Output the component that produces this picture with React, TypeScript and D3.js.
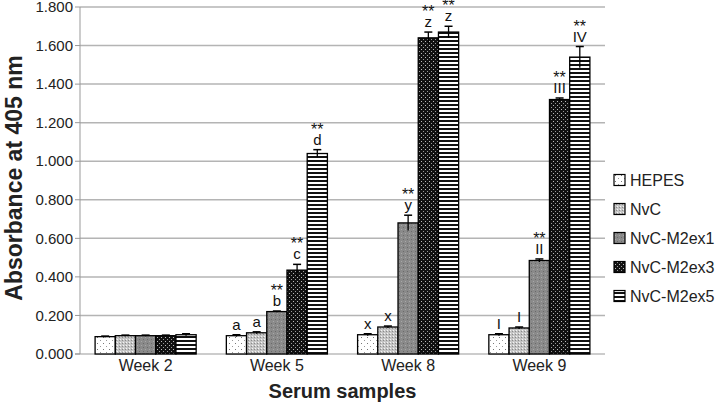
import React from "react";
import * as d3 from "d3";

const weeks = ["Week 2", "Week 5", "Week 8", "Week 9"];
const groups = ["HEPES", "NvC", "NvC-M2ex1", "NvC-M2ex3", "NvC-M2ex5"];

// absorbance per group, one value per week
const hepes = [0.09, 0.095, 0.1, 0.1];
const nvc = [0.095, 0.11, 0.14, 0.135];
const m2ex1 = [0.095, 0.22, 0.68, 0.485];
const m2ex3 = [0.095, 0.435, 1.64, 1.32];
const m2ex5 = [0.1, 1.04, 1.67, 1.54];

const hepesErr = [0.003, 0.005, 0.005, 0.005];
const nvcErr = [0.003, 0.005, 0.005, 0.005];
const m2ex1Err = [0.003, 0.003, 0.04, 0.008];
const m2ex3Err = [0.003, 0.03, 0.03, 0.008];
const m2ex5Err = [0.005, 0.02, 0.03, 0.055];

const hepesLbl = ["", "a", "x", "I"];
const nvcLbl = ["", "a", "x", "I"];
const m2ex1Lbl = ["", "b", "y", "II"];
const m2ex3Lbl = ["", "c", "z", "III"];
const m2ex5Lbl = ["", "d", "z", "IV"];

const starWeeks = ["Week 5", "Week 8", "Week 9"];
const starGroups = ["NvC-M2ex1", "NvC-M2ex3", "NvC-M2ex5"];

const yTicks = [0, 0.2, 0.4, 0.6, 0.8, 1.0, 1.2, 1.4, 1.6, 1.8];

const values = [hepes, nvc, m2ex1, m2ex3, m2ex5];
const errs = [hepesErr, nvcErr, m2ex1Err, m2ex3Err, m2ex5Err];
const lbls = [hepesLbl, nvcLbl, m2ex1Lbl, m2ex3Lbl, m2ex5Lbl];

const W = 722;
const H = 404;
const left = 80;
const right = 605;
const top = 7;
const bottom = 354;
const font = "Liberation Sans, Arial, sans-serif";

const App = () => {
  const x0 = d3
    .scaleBand()
    .domain(weeks)
    .range([left, right])
    .paddingInner(0.23)
    .paddingOuter(0.115);
  const x1 = d3.scaleBand().domain(groups).range([0, x0.bandwidth()]);
  const y = d3.scaleLinear().domain([0, 1.8]).range([bottom, top]);
  const fmt = d3.format(".3f");

  const rows = [];
  weeks.forEach((w, wi) => {
    groups.forEach((g, gi) => {
      rows.push({
        w,
        g,
        gi,
        v: values[gi][wi],
        e: errs[gi][wi],
        lbl: lbls[gi][wi],
        star: starWeeks.includes(w) && starGroups.includes(g),
      });
    });
  });

  return (
    <svg width={W} height={H} style={{ position: "absolute", left: 0, top: 0 }}>
      <defs>
        <pattern id="p0" width="6" height="6" patternUnits="userSpaceOnUse">
          <rect width="6" height="6" fill="#fff" />
          <rect x="1" y="1" width="1" height="1" fill="#777" />
          <rect x="4" y="4" width="1" height="1" fill="#999" />
        </pattern>
        <pattern id="p1" width="3" height="3" patternUnits="userSpaceOnUse">
          <rect width="3" height="3" fill="#c4c4c4" />
          <rect x="0" y="0" width="1" height="1" fill="#f4f4f4" />
          <rect x="2" y="1" width="1" height="1" fill="#8a8a8a" />
        </pattern>
        <pattern id="p2" width="4" height="4" patternUnits="userSpaceOnUse">
          <rect width="4" height="4" fill="#8a8a8a" />
          <rect x="1" y="1" width="1" height="1" fill="#a8a8a8" />
          <rect x="3" y="3" width="1" height="1" fill="#6a6a6a" />
        </pattern>
        <pattern id="p3" width="4" height="4" patternUnits="userSpaceOnUse">
          <rect width="4" height="4" fill="#111" />
          <rect x="1" y="1" width="1" height="1" fill="#bbb" />
          <rect x="3" y="3" width="1" height="1" fill="#999" />
        </pattern>
        <pattern id="p4" width="4" height="4" patternUnits="userSpaceOnUse">
          <rect width="4" height="4" fill="#fff" />
          <rect y="0" width="4" height="2" fill="#111" />
        </pattern>
      </defs>

      {/* grid */}
      {yTicks.map((t) => (
        <g key={t}>
          {t > 0 && (
            <line x1={left} x2={right} y1={y(t)} y2={y(t)} stroke="#b4b4b4" strokeWidth={1.5} />
          )}
          <line x1={left - 5} x2={left} y1={y(t)} y2={y(t)} stroke="#999" />
          <text
            x={left - 7}
            y={y(t)}
            dy="0.35em"
            textAnchor="end"
            fontFamily={font}
            fontSize={15}
            fill="#222"
          >
            {fmt(t)}
          </text>
        </g>
      ))}
      <line x1={left} x2={left} y1={top} y2={bottom} stroke="#999" />
      <line x1={left - 5} x2={right} y1={bottom} y2={bottom} stroke="#999" />

      {/* bars */}
      {rows.map((d, i) => {
        const bx = x0(d.w) + x1(d.g);
        const bw = x1.bandwidth();
        const cx = bx + bw / 2;
        const yTop = y(d.v + d.e);
        return (
          <g key={i}>
            <rect
              x={bx}
              y={y(d.v)}
              width={bw}
              height={bottom - y(d.v)}
              fill={`url(#p${d.gi})`}
              stroke="#000"
              strokeWidth={1.3}
            />
            <line x1={cx} x2={cx} y1={y(d.v - d.e)} y2={yTop} stroke="#000" strokeWidth={1.3} />
            <line x1={cx - 4} x2={cx + 4} y1={yTop} y2={yTop} stroke="#000" strokeWidth={1.5} />
            {d.lbl && (
              <text
                x={cx}
                y={yTop - 5}
                textAnchor="middle"
                fontFamily={font}
                fontSize={15}
                fill="#111"
              >
                {d.lbl}
              </text>
            )}
            {d.star && (
              <text
                x={cx}
                y={yTop - 15}
                textAnchor="middle"
                fontFamily={font}
                fontSize={16}
                fill="#111"
              >
                **
              </text>
            )}
          </g>
        );
      })}

      {/* x labels */}
      {weeks.map((w) => (
        <text
          key={w}
          x={x0(w) + x0.bandwidth() / 2}
          y={bottom + 17}
          textAnchor="middle"
          fontFamily={font}
          fontSize={16}
          fill="#222"
        >
          {w}
        </text>
      ))}
      <text
        x={(left + right) / 2}
        y={398}
        textAnchor="middle"
        fontFamily={font}
        fontSize={20}
        fontWeight="bold"
        fill="#222"
      >
        Serum samples
      </text>
      <text
        transform={`translate(22,178) rotate(-90)`}
        textAnchor="middle"
        fontFamily={font}
        fontSize={23}
        fontWeight="bold"
        fill="#222"
      >
        Absorbance at 405 nm
      </text>

      {/* legend */}
      {groups.map((g, i) => (
        <g key={g} transform={`translate(614,${180 + i * 29})`}>
          <rect x={0} y={-5.5} width={11} height={11} fill={`url(#p${i})`} stroke="#000" strokeWidth={1.2} />
          <text x={16} y={0} dy="0.35em" fontFamily={font} fontSize={16} fill="#222">
            {g}
          </text>
        </g>
      ))}
    </svg>
  );
};

export default App;
